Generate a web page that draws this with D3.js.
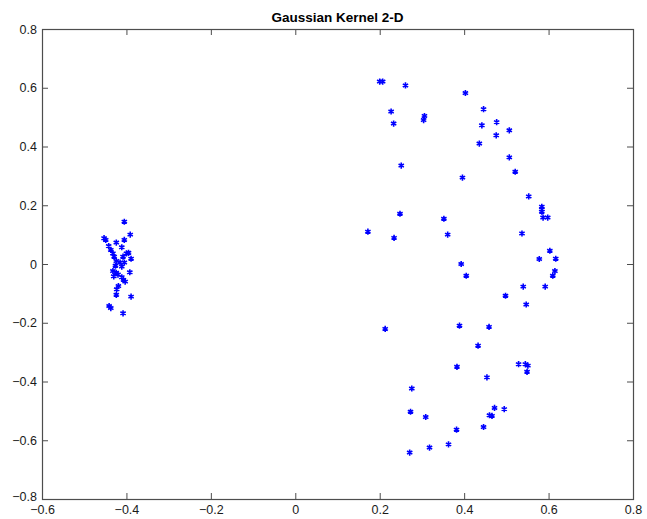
<!DOCTYPE html>
<html>
<head>
<meta charset="utf-8">
<script src="https://cdn.jsdelivr.net/npm/d3@7"></script>
<style>
  body { margin: 0; background: #fff; }
  text { font-family: "Liberation Sans", Arial, sans-serif; }
</style>
</head>
<body>
<div id="chart-area"></div>
<script>
// points: left cluster and right arc
var clusterX = [-0.405, -0.391, -0.453, -0.449, -0.424, -0.405, -0.442, -0.411, -0.437, -0.432,
  -0.400, -0.395, -0.429, -0.408, -0.389, -0.424, -0.415, -0.405, -0.426, -0.411,
  -0.432, -0.424, -0.392, -0.430, -0.420, -0.411, -0.407, -0.403, -0.419, -0.423,
  -0.424, -0.389, -0.441, -0.437, -0.408];
var clusterY = [0.144, 0.100, 0.088, 0.082, 0.073, 0.082, 0.061, 0.057, 0.048, 0.036,
  0.036, 0.038, 0.025, 0.025, 0.018, 0.010, 0.005, 0.005, -0.006, -0.009,
  -0.024, -0.030, -0.028, -0.042, -0.036, -0.045, -0.054, -0.060, -0.075, -0.086,
  -0.105, -0.111, -0.143, -0.150, -0.168];

var arcX = [0.200, 0.207, 0.261, 0.403, 0.446, 0.227, 0.306, 0.304, 0.233, 0.442,
  0.436, 0.251, 0.396, 0.477, 0.476, 0.507, 0.507, 0.521, 0.553, 0.584,
  0.584, 0.584, 0.587, 0.598, 0.248, 0.352, 0.172, 0.234, 0.361, 0.537,
  0.603, 0.578, 0.617, 0.393, 0.615, 0.405, 0.610, 0.540, 0.592, 0.498,
  0.547, 0.213, 0.389, 0.459, 0.433, 0.383, 0.529, 0.545, 0.551, 0.549,
  0.454, 0.276, 0.472, 0.495, 0.460, 0.466, 0.273, 0.309, 0.382, 0.446,
  0.363, 0.318, 0.271];
var arcY = [0.621, 0.621, 0.608, 0.582, 0.527, 0.519, 0.504, 0.490, 0.478, 0.472,
  0.410, 0.335, 0.294, 0.483, 0.438, 0.455, 0.363, 0.314, 0.230, 0.195,
  0.186, 0.178, 0.158, 0.158, 0.171, 0.154, 0.110, 0.089, 0.100, 0.104,
  0.045, 0.017, 0.018, 0.000, -0.024, -0.040, -0.040, -0.077, -0.077, -0.108,
  -0.138, -0.221, -0.210, -0.214, -0.278, -0.350, -0.341, -0.341, -0.346, -0.367,
  -0.386, -0.424, -0.490, -0.494, -0.515, -0.517, -0.503, -0.521, -0.564, -0.555,
  -0.614, -0.625, -0.642];

var xTicks = [-0.6, -0.4, -0.2, 0, 0.2, 0.4, 0.6, 0.8];
var yTicks = [-0.8, -0.6, -0.4, -0.2, 0, 0.2, 0.4, 0.6, 0.8];

var width = 647, height = 519;
var margin = {top: 29, right: 14, bottom: 20, left: 42};

var svg = d3.select("#chart-area").append("svg")
  .attr("width", width)
  .attr("height", height);

var x = d3.scaleLinear().domain([-0.6, 0.8]).range([margin.left, width - margin.right]);
var y = d3.scaleLinear().domain([-0.8, 0.8]).range([height - margin.bottom, margin.top]);

var points = clusterX.map((d, i) => ({x: d, y: clusterY[i]}))
  .concat(arcX.map((d, i) => ({x: d, y: arcY[i]})));

var tickLen = 6;
var axisColor = "#4d4d4d";

// axes: ticks point inward like matlab
var xAxis = d3.axisBottom(x).tickValues(xTicks).tickSize(-tickLen).tickPadding(6)
  .tickFormat(d => d3.format("")(+d.toFixed(1)));
var xAxisTop = d3.axisTop(x).tickValues(xTicks).tickSize(-tickLen).tickFormat("");
var yAxis = d3.axisLeft(y).tickValues(yTicks).tickSize(-tickLen).tickPadding(5)
  .tickFormat(d => d3.format("")(+d.toFixed(1)));
var yAxisRight = d3.axisRight(y).tickValues(yTicks).tickSize(-tickLen).tickFormat("");

function styleAxis(g) {
  g.select(".domain").remove();
  g.selectAll(".tick line").attr("stroke", axisColor);
  g.selectAll(".tick text").attr("fill", "#1a1a1a").style("font-size", "12.5px");
}

svg.append("g").attr("transform", `translate(0,${y(-0.8)})`).call(xAxis).call(styleAxis);
svg.append("g").attr("transform", `translate(0,${y(0.8)})`).call(xAxisTop).call(styleAxis);
svg.append("g").attr("transform", `translate(${x(-0.6)},0)`).call(yAxis).call(styleAxis);
svg.append("g").attr("transform", `translate(${x(0.8)},0)`).call(yAxisRight).call(styleAxis);

// the -0.8 label sits a bit above the corner, as in the original
svg.selectAll("g.tick text")
  .filter(d => d === -0.8)
  .attr("dy", "0.1em");

// box
svg.append("rect")
  .attr("x", x(-0.6) + 0.5)
  .attr("y", y(0.8) + 0.5)
  .attr("width", x(0.8) - x(-0.6))
  .attr("height", y(-0.8) - y(0.8))
  .attr("fill", "none")
  .attr("stroke", axisColor)
  .attr("stroke-width", 1.2);

// asterisk markers
var star = d3.symbol().type(d3.symbolAsterisk).size(26);
svg.selectAll("path.pt")
  .data(points)
  .enter()
  .append("path")
  .attr("class", "pt")
  .attr("transform", d => `translate(${x(d.x)},${y(d.y)})`)
  .attr("d", star)
  .attr("fill", "none")
  .attr("stroke", "#0000ff")
  .attr("stroke-width", 1.6);

svg.append("text")
  .attr("x", (x(-0.6) + x(0.8)) / 2)
  .attr("y", 22)
  .attr("text-anchor", "middle")
  .style("font-size", "13.5px")
  .style("font-weight", "bold")
  .attr("fill", "#000")
  .text("Gaussian Kernel 2-D");
</script>
</body>
</html>
